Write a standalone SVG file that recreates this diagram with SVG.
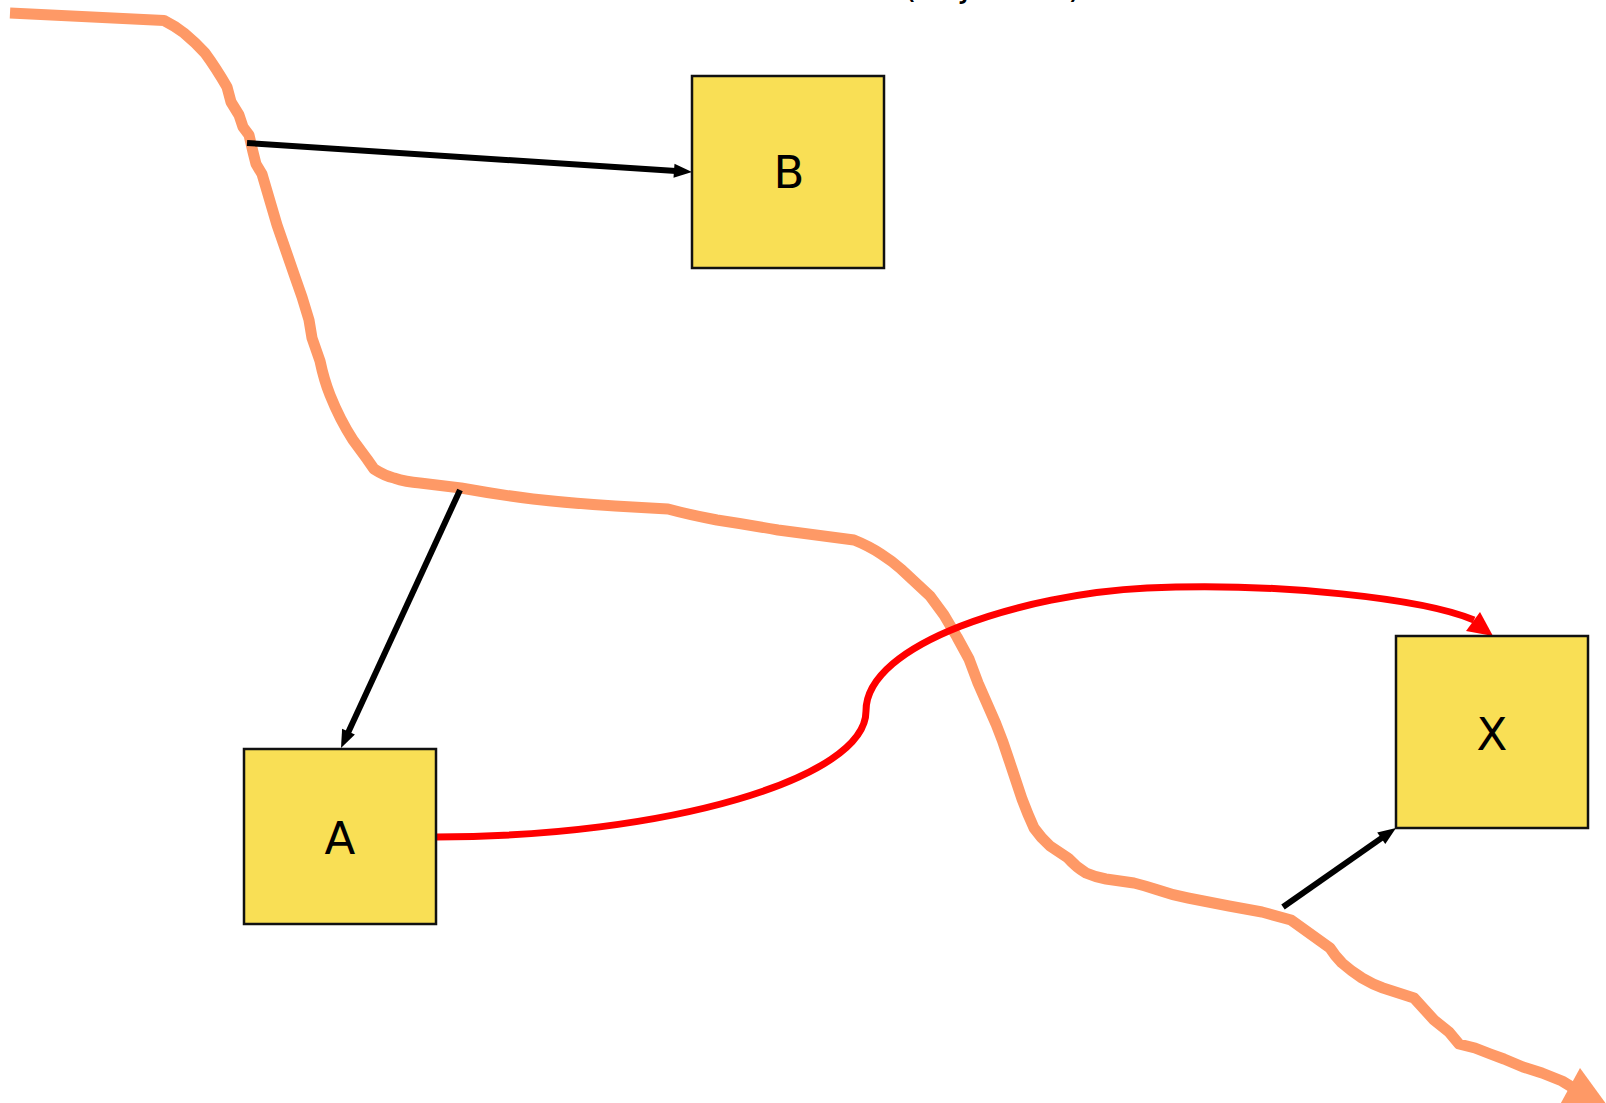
<svg xmlns="http://www.w3.org/2000/svg" width="1606" height="1103" viewBox="0 0 1606 1103">
<style>
.node rect{fill:#f9df55;stroke:#111;stroke-width:2.5}
.node text{font-family:"DejaVu Sans",sans-serif;font-size:45px;fill:#000;text-anchor:middle}
.edge{fill:none;stroke:#000;stroke-width:6}
.head{fill:#000}
.title{font-family:"DejaVu Sans",sans-serif;font-size:35px;fill:#000}
</style>
<rect width="1606" height="1103" fill="#fff"/>
<text class="title" x="903" y="-3">(adjusted)</text>
<g id="connectors">
<path id="timeline" fill="none" stroke="#fe9966" stroke-width="11" stroke-linejoin="round" stroke-linecap="butt" d="M10,13 L164,20.5 Q175,26 184,33 Q196,43 205,53 Q216,68 227,87 L231,102 L239,115 L243,127 L249,135 L253,152 L256,164 L262,174 L277,225 L295,277 L302,297 L309,320 L312,338 L320,361 Q324,380 330,395 Q340,420 353,440 L367,459 L374,469 Q385,476 394,478 Q406,482 420,483 L461,488 Q500,495 533,499 Q580,504 615,506 L668,509 Q690,515 717,520 Q750,525 778,530 L854,540 Q869,546 881,554 Q892,561 901,569 L930,596 L944,615 L957,637 L969,659 L978,683 L996,724 Q1003,741 1009,760 L1022,799 Q1028,815 1034,828 Q1041,838 1050,846 L1068,858 Q1076,867 1086,873 Q1095,877 1106,879 L1134,883 Q1146,886 1158,890 Q1172,895 1188,898 L1229,906 L1262,912 L1291,920 L1330,948 Q1335,956 1342,963 Q1351,971 1362,978 Q1372,984 1383,988 L1414,998 L1434,1020 L1449,1032 L1459,1044 L1475,1048 Q1490,1054 1504,1059 L1523,1067 L1542,1073 L1562,1081 L1580,1092"/>
<polygon points="1580,1068 1612,1112 1556,1112" fill="#fe9966"/>
<line class="edge" x1="247" y1="143" x2="676" y2="171"/>
<polygon class="head" points="692,172 674.5,163.8 673.5,177.8"/>
<line class="edge" x1="460" y1="490" x2="347.7" y2="733.5"/>
<polygon class="head" points="341,748 354.9,734.6 342.1,728.8"/>
<line class="edge" x1="1283" y1="907" x2="1382.5" y2="837.4"/>
<polygon class="head" points="1396,828 1385.3,844 1377.2,832.6"/>
<path fill="none" stroke="#ff0000" stroke-width="7" d="M436,837 C665,837 866,779 866,711 C866,643 1024,594 1147,588 C1280,582 1424,599 1474,620"/>
<polygon points="1480,612 1493,636 1466,631" fill="#ff0000"/>
</g>
<g id="B" class="node"><rect x="692" y="76" width="192" height="192"/><text x="789" y="188">B</text></g>
<g id="A" class="node"><rect x="244" y="749" width="192" height="175"/><text x="340" y="854">A</text></g>
<g id="X" class="node"><rect x="1396" y="636" width="192" height="192"/><text x="1492" y="750">X</text></g>
</svg>
